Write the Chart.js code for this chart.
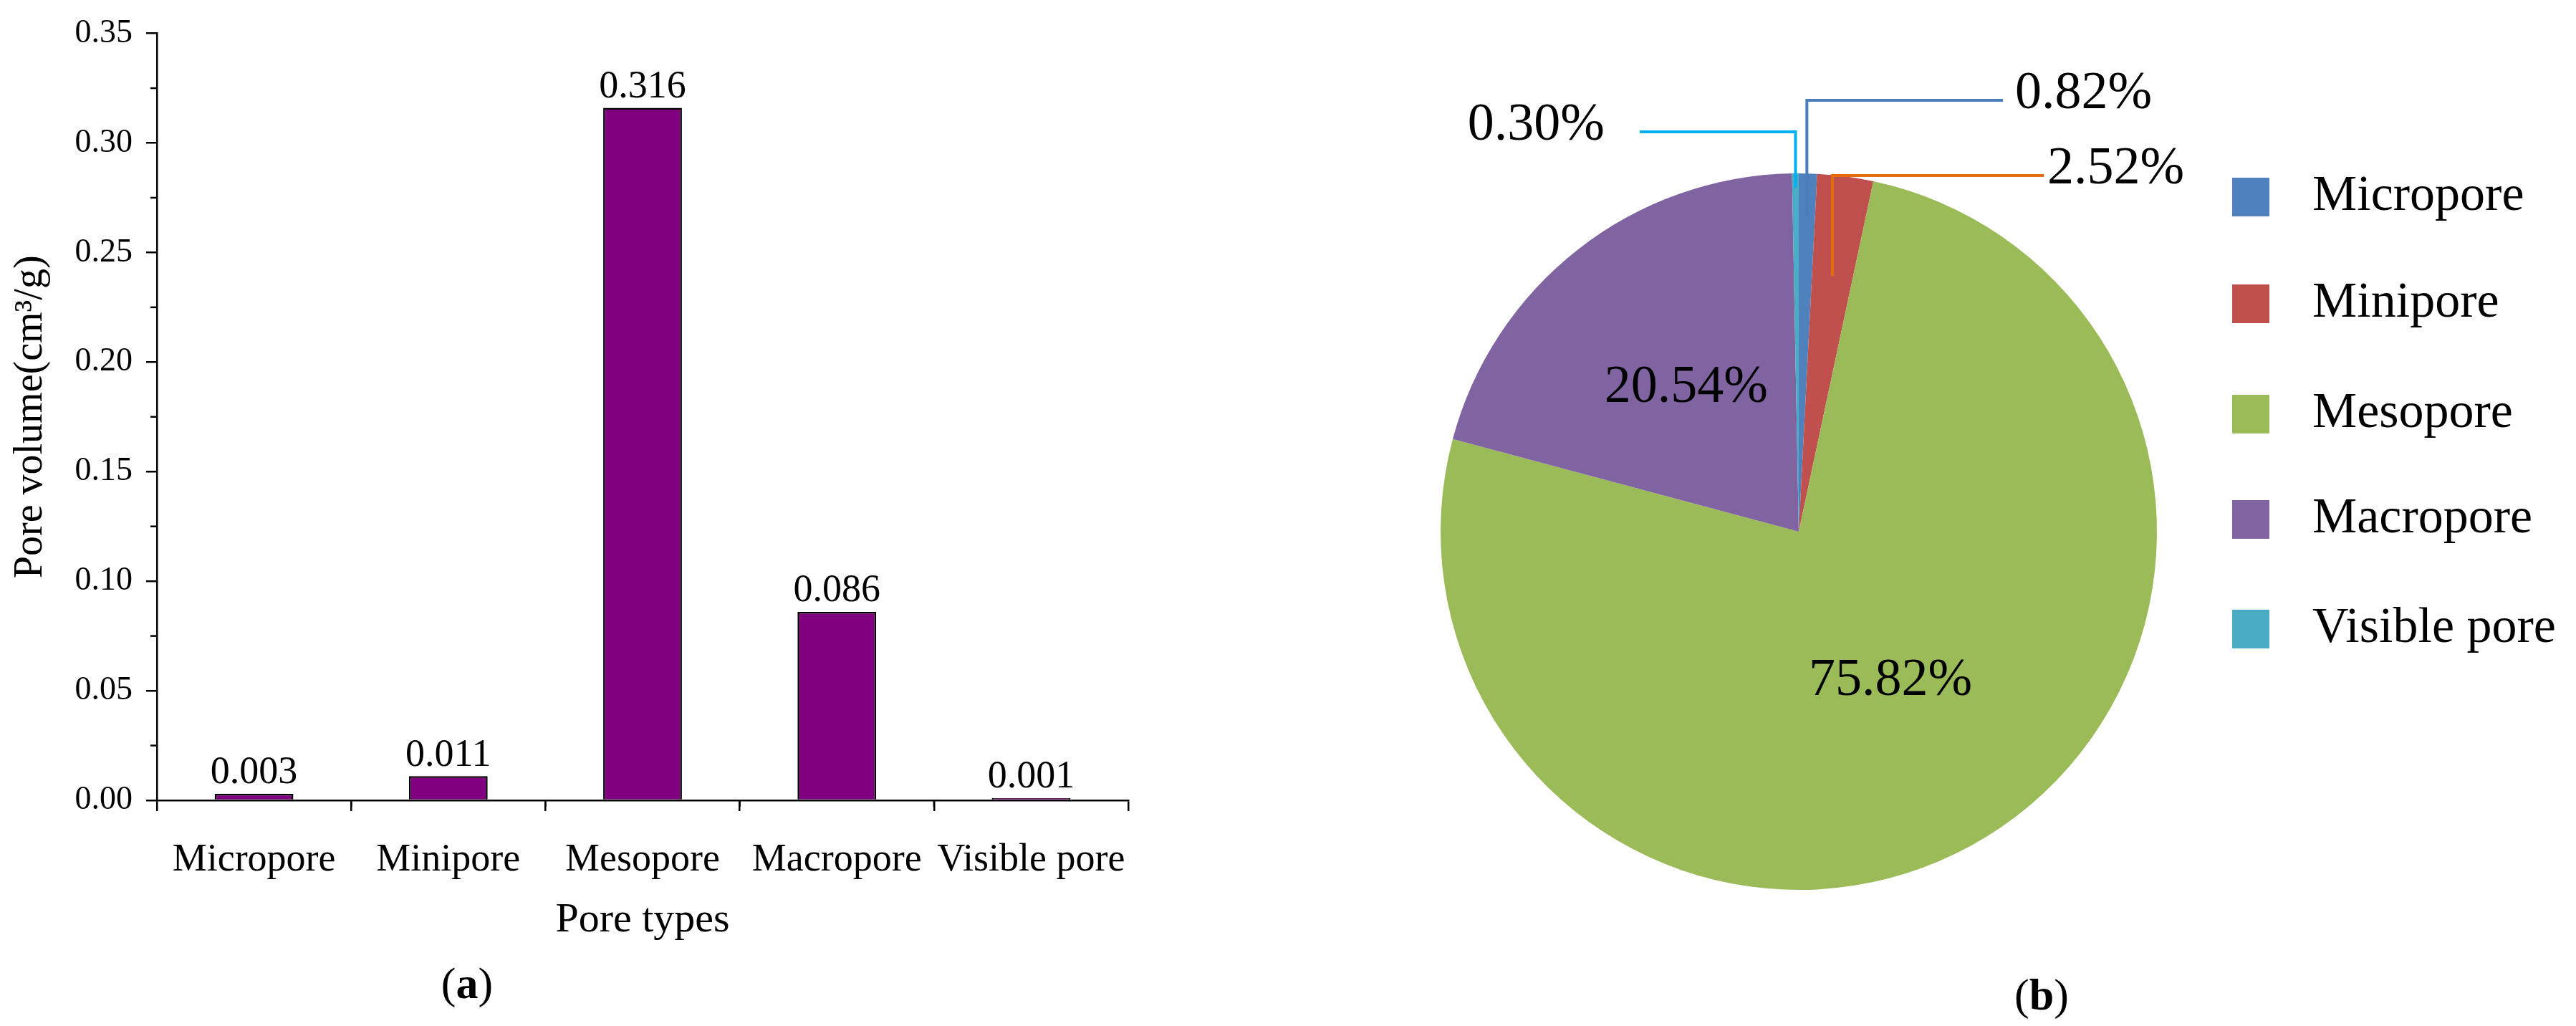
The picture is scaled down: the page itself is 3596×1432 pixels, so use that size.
<!DOCTYPE html>
<html><head><meta charset="utf-8">
<script src="https://cdn.jsdelivr.net/npm/chart.js@4"></script>
<style>
html,body{margin:0;padding:0;background:#fff;width:3596px;height:1432px;overflow:hidden;position:relative;font-family:"Liberation Serif",serif}
#c1{position:absolute;left:0;top:0}
#c2{position:absolute;left:1800px;top:0}
.cap{position:absolute;font-family:"Liberation Serif",serif;font-size:62px;color:#000;transform:translate(-50%,-50%)}
</style></head><body>
<canvas id="c1" width="1800" height="1432" style="width:1800px;height:1432px"></canvas>
<canvas id="c2" width="1796" height="1432" style="width:1796px;height:1432px"></canvas>
<div class="cap" style="left:652px;top:1372px">(<b>a</b>)</div>
<div class="cap" style="left:2850px;top:1388px">(<b>b</b>)</div>
<script>
const categories=["Micropore","Minipore","Mesopore","Macropore","Visible pore"];
const poreVolume=[0.003,0.011,0.316,0.086,0.001];
const volumeLabels=["0.003","0.011","0.316","0.086","0.001"];
const pieShares=[0.82,2.52,75.82,20.54,0.30];
const pieLabels=["0.82%","2.52%","75.82%","20.54%","0.30%"];
const yTicks=[0,0.05,0.10,0.15,0.20,0.25,0.30,0.35];
const pieColors=["#4f81bd","#c0504d","#9bbb59","#8064a2","#4bacc6"];
const SERIF='"Liberation Serif", serif';

const barExtras={id:'barExtras',afterDatasetsDraw(ch){
  const ctx=ch.ctx,y=ch.scales.y,x=ch.scales.x;
  ctx.save();ctx.strokeStyle='#000';ctx.lineWidth=2.5;
  // minor y ticks
  for(let v=0.025;v<0.35;v+=0.05){const p=y.getPixelForValue(v);ctx.beginPath();ctx.moveTo(x.left,p);ctx.lineTo(x.left-9,p);ctx.stroke();}
  // minor x ticks at category boundaries
  const w=(x.right-x.left)/categories.length;
  for(let i=1;i<categories.length;i++){const p=x.left+w*i;ctx.beginPath();ctx.moveTo(p,y.bottom);ctx.lineTo(p,y.bottom+9);ctx.stroke();}
  ctx.fillStyle='#000';ctx.font='54px '+SERIF;ctx.textAlign='center';ctx.textBaseline='bottom';
  ch.getDatasetMeta(0).data.forEach((b,i)=>ctx.fillText(volumeLabels[i],b.x,b.y-2));
  ctx.restore();
}};

new Chart(document.getElementById('c1'),{type:'bar',
 data:{labels:categories,datasets:[{data:poreVolume,backgroundColor:'#800080',borderColor:'#000',borderWidth:2.5,barPercentage:0.405,categoryPercentage:1}]},
 options:{responsive:false,animation:false,devicePixelRatio:1,
  layout:{padding:{left:10,top:29,right:225,bottom:112}},
  plugins:{legend:{display:false},tooltip:{enabled:false}},
  scales:{
   x:{grid:{drawOnChartArea:false,color:'#000',lineWidth:2.5,tickLength:15,tickColor:'#000'},border:{color:'#000',width:2.5},
      ticks:{color:'#000',font:{family:SERIF,size:54},padding:36,maxRotation:0,autoSkip:false},
      title:{display:true,text:'Pore types',color:'#000',font:{family:SERIF,size:58},padding:{top:0,bottom:0}},
      afterFit(s){s.height=1432-1117-112;}},
   y:{min:0,max:0.35,grid:{drawOnChartArea:false,tickLength:15,tickColor:'#000',lineWidth:2.5},border:{color:'#000',width:2.5},
      afterBuildTicks(s){s.ticks=yTicks.map(v=>({value:v}));},
      ticks:{color:'#000',font:{family:SERIF,size:46},padding:19,callback:v=>v.toFixed(2)},
      title:{display:true,text:'Pore volume(cm³/g)',color:'#000',font:{family:SERIF,size:56},padding:{top:0,bottom:0}},
      afterFit(s){s.width=219-10;}}
  }},plugins:[barExtras]});

// pie: leader-line layout (label text pos, elbow y, end x) per slice index
const leaders={0:{r:0.88,ey:140,ex:2796,tx:2813,color:'#4a7ebb',align:'left'},
               1:{r:0.72,ey:245,ex:2853,tx:2858,color:'#e46c0a',align:'left'},
               4:{r:0.96,ey:184,ex:2289,tx:2240,color:'#00b0f0',align:'right'}};
const OFF=1800;
const pieExtras={id:'pieExtras',afterDatasetsDraw(ch){
  const ctx=ch.ctx;ctx.save();
  const arcs=ch.getDatasetMeta(0).data;
  arcs.forEach((a,i)=>{
    const mid=(a.startAngle+a.endAngle)/2;
    if(leaders[i]){const L=leaders[i];
      const px=a.x+Math.cos(mid)*a.outerRadius*L.r, py=a.y+Math.sin(mid)*a.outerRadius*L.r;
      const ey=L.ey, ex=L.ex-OFF;
      ctx.strokeStyle=L.color;ctx.lineWidth=4;ctx.beginPath();ctx.moveTo(px,py);ctx.lineTo(px,ey);ctx.lineTo(ex,ey);ctx.stroke();
      ctx.fillStyle='#000';ctx.font='74px '+SERIF;ctx.textBaseline='middle';ctx.textAlign=L.align;
      ctx.fillText(pieLabels[i],L.tx-OFF,ey-8);
    } else {
      const rr=i===2?0.49:0.51;
      ctx.fillStyle='#000';ctx.font='74px '+SERIF;ctx.textBaseline='middle';ctx.textAlign='center';
      ctx.fillText(pieLabels[i],a.x+Math.cos(mid)*a.outerRadius*rr,a.y+Math.sin(mid)*a.outerRadius*rr);
    }
  });
  // legend
  const rows=[275,424,578,725,878];
  categories.forEach((c,i)=>{
    ctx.fillStyle=pieColors[i];ctx.fillRect(3116-OFF,rows[i]-27,52,54);
    ctx.fillStyle='#000';ctx.font='70px '+SERIF;ctx.textAlign='left';ctx.textBaseline='middle';
    ctx.fillText(c,3228-OFF,rows[i]);
  });
  ctx.restore();
}};

new Chart(document.getElementById('c2'),{type:'pie',
 data:{labels:categories,datasets:[{data:pieShares,backgroundColor:pieColors,borderWidth:0}]},
 options:{responsive:false,animation:false,devicePixelRatio:1,
  layout:{padding:{left:211,right:585,top:242,bottom:190}},
  plugins:{legend:{display:false},tooltip:{enabled:false}}},
 plugins:[pieExtras]});
</script>
</body></html>
